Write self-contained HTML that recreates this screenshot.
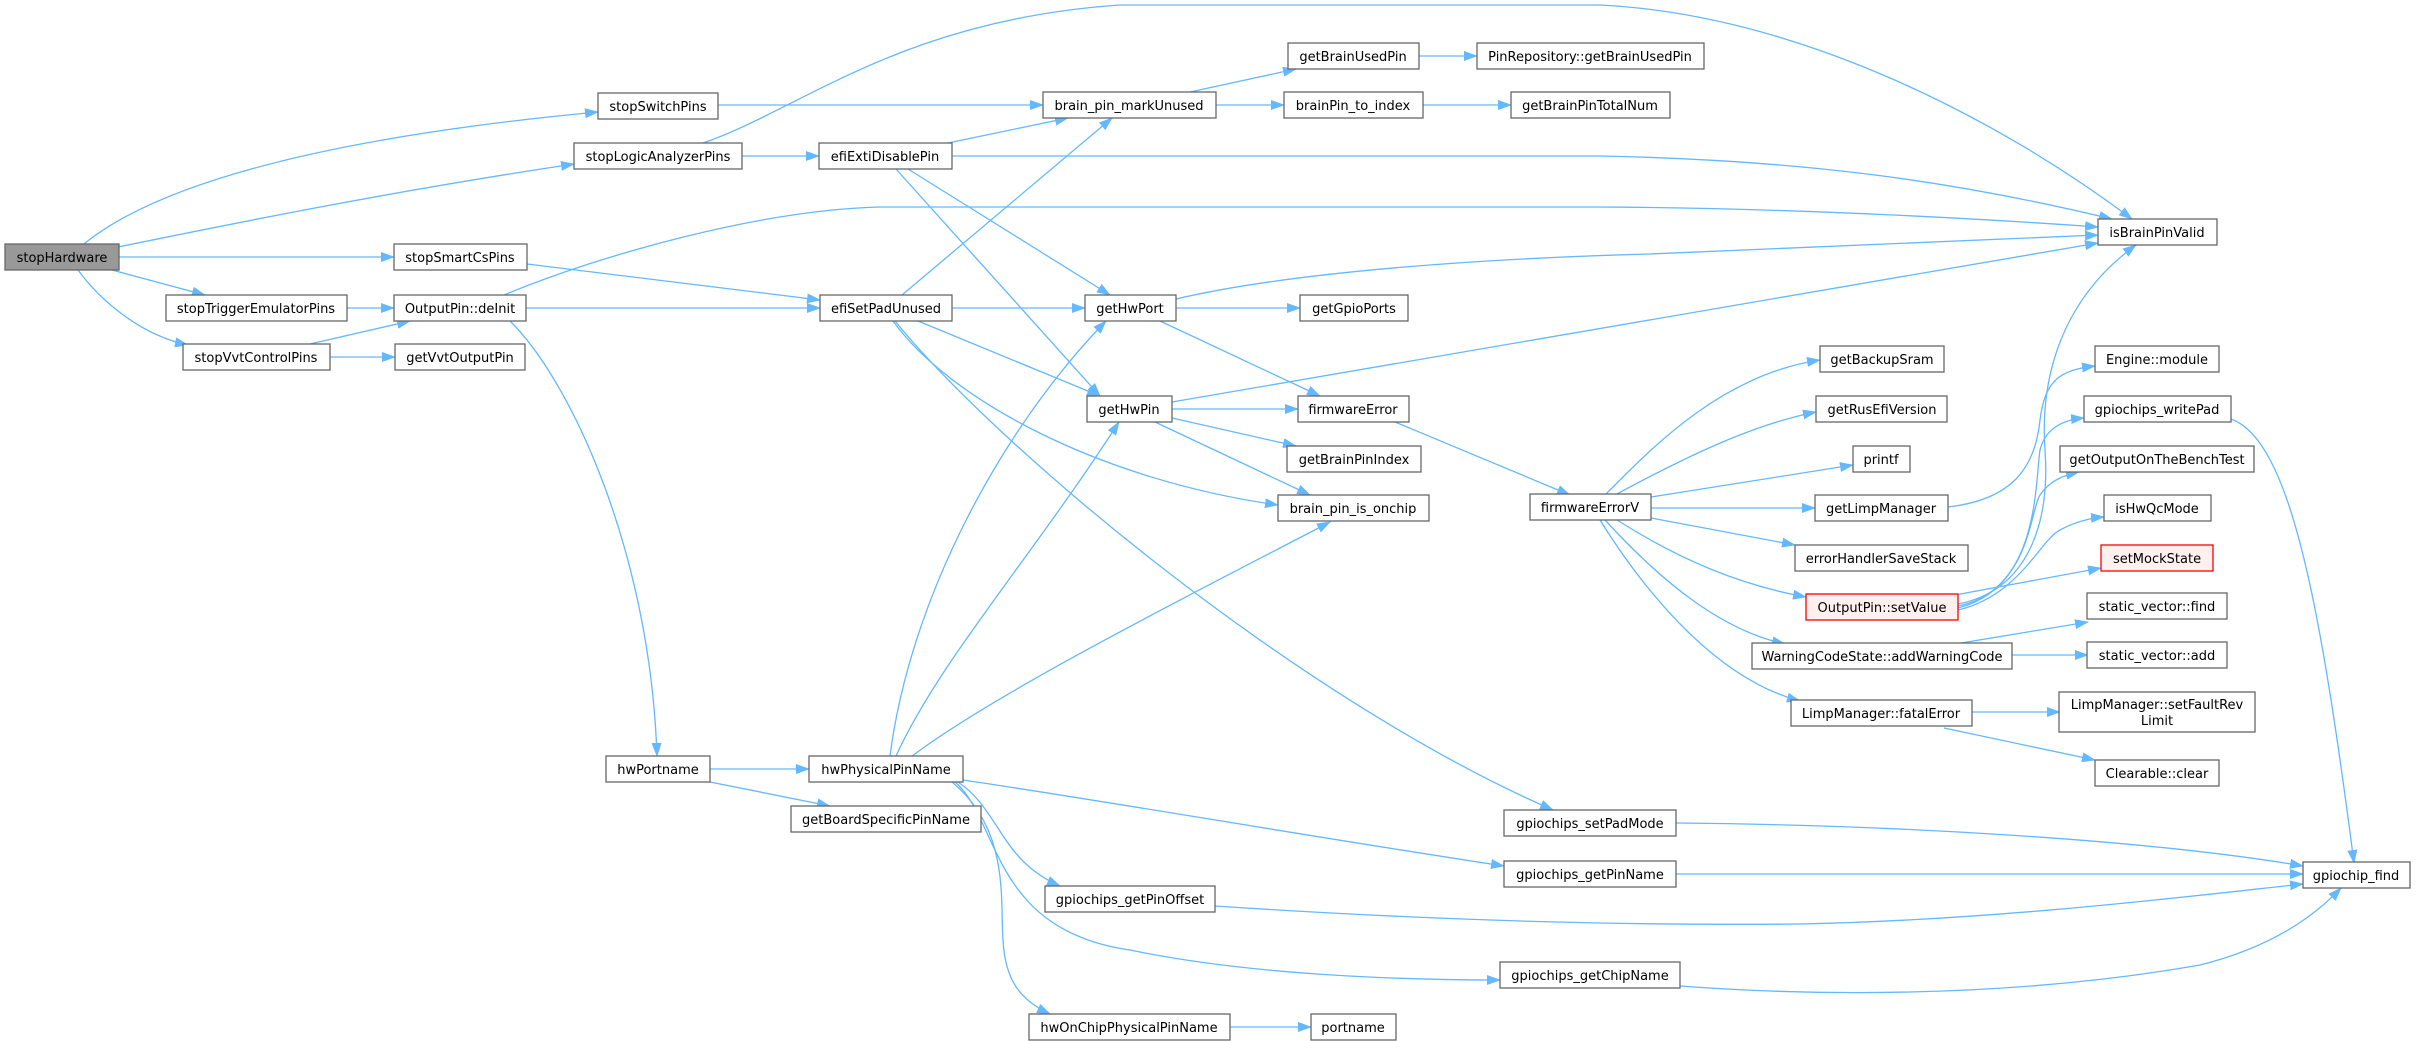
<!DOCTYPE html>
<html><head><meta charset="utf-8"><style>
html,body{margin:0;padding:0;background:#fff;}
svg{display:block;}
text{font-family:"DejaVu Sans","Liberation Sans",sans-serif;font-size:13px;fill:#000;text-anchor:middle;}
.n{fill:#fff;stroke:#666;stroke-width:1.3;}
.g{fill:#999;stroke:#666;stroke-width:1.3;}
.r{fill:#fff0f0;stroke:#f00;stroke-width:1.3;}
path.e{fill:none;stroke:#63b8ff;stroke-width:1.3;marker-end:url(#a);}
</style></head><body>
<svg width="2416" height="1041" viewBox="0 0 2416 1041" xmlns="http://www.w3.org/2000/svg">
<defs><marker id="a" markerUnits="userSpaceOnUse" markerWidth="14" markerHeight="10" refX="13" refY="5" orient="auto"><path d="M0,0 L14,5 L0,10 z" fill="#63b8ff"/></marker></defs>
<g>
<path class="e" d="M84,244 C150,190 300,140 598,112"/>
<path class="e" d="M118,247 C250,220 400,190 574,164"/>
<path class="e" d="M119,257 L394,257"/>
<path class="e" d="M112,270 L205,295"/>
<path class="e" d="M78,270 C100,300 140,335 188,345"/>
<path class="e" d="M347,308 L394,308"/>
<path class="e" d="M310,344 L410,321"/>
<path class="e" d="M330,357 L395,357"/>
<path class="e" d="M718,105 L1043,105"/>
<path class="e" d="M703,143 C800,110 900,20 1120,5 L1600,5 C1800,15 2000,120 2132,219"/>
<path class="e" d="M742,156 L819,156"/>
<path class="e" d="M527,264 L820,300"/>
<path class="e" d="M504,295 C600,255 760,210 880,207 L1600,207 C1800,208 2000,220 2098,227"/>
<path class="e" d="M526,308 L820,308"/>
<path class="e" d="M510,321 C570,380 650,550 657,756"/>
<path class="e" d="M948,143 L1068,118"/>
<path class="e" d="M952,156 L1600,156 C1800,160 1950,180 2112,219"/>
<path class="e" d="M908,169 L1110,295"/>
<path class="e" d="M896,169 L1100,396"/>
<path class="e" d="M902,295 L1112,118"/>
<path class="e" d="M952,308 L1085,308"/>
<path class="e" d="M918,321 L1100,396"/>
<path class="e" d="M893,321 C950,400 1100,480 1278,505"/>
<path class="e" d="M895,321 C1000,450 1300,700 1553,810"/>
<path class="e" d="M1176,299 C1300,270 1500,258 1650,254 L2098,235"/>
<path class="e" d="M1176,308 L1300,308"/>
<path class="e" d="M1160,321 L1320,396"/>
<path class="e" d="M1172,402 L2098,243"/>
<path class="e" d="M1172,409 L1298,409"/>
<path class="e" d="M1172,418 L1296,446"/>
<path class="e" d="M1155,422 L1310,495"/>
<path class="e" d="M890,756 C910,600 1000,430 1106,321"/>
<path class="e" d="M896,756 C940,660 1030,560 1119,422"/>
<path class="e" d="M912,756 C1000,690 1200,590 1330,522"/>
<path class="e" d="M710,769 L809,769"/>
<path class="e" d="M710,782 L830,806"/>
<path class="e" d="M963,780 C1100,800 1300,835 1504,866"/>
<path class="e" d="M958,782 C1000,810 1000,860 1060,886"/>
<path class="e" d="M955,782 C1000,820 990,930 1130,950 C1250,975 1400,980 1500,980"/>
<path class="e" d="M952,782 C1010,830 1000,900 1003,940 C1005,980 1020,1000 1050,1014"/>
<path class="e" d="M1230,1027 L1311,1027"/>
<path class="e" d="M1190,92 L1296,69"/>
<path class="e" d="M1216,105 L1284,105"/>
<path class="e" d="M1423,105 L1511,105"/>
<path class="e" d="M1419,56 L1477,56"/>
<path class="e" d="M1395,422 L1570,495"/>
<path class="e" d="M1605,495 C1650,450 1720,375 1820,360"/>
<path class="e" d="M1615,495 C1680,460 1750,425 1816,412"/>
<path class="e" d="M1651,497 L1853,465"/>
<path class="e" d="M1651,508 L1815,508"/>
<path class="e" d="M1651,518 L1795,545"/>
<path class="e" d="M1617,520 C1680,560 1740,585 1806,597"/>
<path class="e" d="M1605,520 C1660,580 1720,630 1785,644"/>
<path class="e" d="M1600,520 C1650,600 1720,680 1800,701"/>
<path class="e" d="M1948,507 C2010,500 2035,470 2040,420 C2045,380 2060,370 2095,366"/>
<path class="e" d="M1958,604 C2030,590 2050,520 2045,450 C2040,380 2060,300 2136,245"/>
<path class="e" d="M1958,606 C2040,590 2035,480 2040,450 C2045,430 2060,420 2084,418"/>
<path class="e" d="M1958,608 C2030,590 2030,510 2040,495 C2050,480 2065,475 2079,472"/>
<path class="e" d="M1958,610 C2020,595 2040,540 2060,530 C2075,522 2090,518 2104,517"/>
<path class="e" d="M1955,595 L2101,568"/>
<path class="e" d="M1955,644 L2088,622"/>
<path class="e" d="M2012,655 L2088,655"/>
<path class="e" d="M1972,712 L2060,712"/>
<path class="e" d="M1944,728 L2095,760"/>
<path class="e" d="M2231,419 C2290,440 2320,600 2354,863"/>
<path class="e" d="M1676,823 C1900,825 2150,840 2303,866"/>
<path class="e" d="M1676,874 L2303,874"/>
<path class="e" d="M1215,906 C1500,925 1700,925 1800,924 C2000,920 2200,895 2303,884"/>
<path class="e" d="M1680,986 C1800,995 2000,1000 2200,965 C2280,945 2320,910 2341,888"/>
</g>
<g>
<rect class="g" x="5" y="244" width="114" height="26"/><text x="62" y="262">stopHardware</text>
<rect class="n" x="598" y="93" width="120" height="26"/><text x="658" y="111">stopSwitchPins</text>
<rect class="n" x="574" y="143" width="168" height="26"/><text x="658" y="161">stopLogicAnalyzerPins</text>
<rect class="n" x="394" y="244" width="133" height="26"/><text x="460" y="262">stopSmartCsPins</text>
<rect class="n" x="166" y="295" width="181" height="26"/><text x="256" y="313">stopTriggerEmulatorPins</text>
<rect class="n" x="394" y="295" width="132" height="26"/><text x="460" y="313">OutputPin::deInit</text>
<rect class="n" x="183" y="344" width="147" height="26"/><text x="256" y="362">stopVvtControlPins</text>
<rect class="n" x="395" y="344" width="130" height="26"/><text x="460" y="362">getVvtOutputPin</text>
<rect class="n" x="1288" y="43" width="131" height="26"/><text x="1353" y="61">getBrainUsedPin</text>
<rect class="n" x="1477" y="43" width="227" height="26"/><text x="1590" y="61">PinRepository::getBrainUsedPin</text>
<rect class="n" x="1043" y="92" width="173" height="26"/><text x="1129" y="110">brain_pin_markUnused</text>
<rect class="n" x="1284" y="92" width="139" height="26"/><text x="1353" y="110">brainPin_to_index</text>
<rect class="n" x="1511" y="92" width="159" height="26"/><text x="1590" y="110">getBrainPinTotalNum</text>
<rect class="n" x="819" y="143" width="133" height="26"/><text x="885" y="161">efiExtiDisablePin</text>
<rect class="n" x="820" y="295" width="132" height="26"/><text x="886" y="313">efiSetPadUnused</text>
<rect class="n" x="1085" y="295" width="91" height="26"/><text x="1130" y="313">getHwPort</text>
<rect class="n" x="1300" y="295" width="108" height="26"/><text x="1354" y="313">getGpioPorts</text>
<rect class="n" x="2098" y="219" width="119" height="26"/><text x="2157" y="237">isBrainPinValid</text>
<rect class="n" x="1087" y="396" width="85" height="26"/><text x="1129" y="414">getHwPin</text>
<rect class="n" x="1298" y="396" width="111" height="26"/><text x="1353" y="414">firmwareError</text>
<rect class="n" x="1287" y="446" width="134" height="26"/><text x="1354" y="464">getBrainPinIndex</text>
<rect class="n" x="1278" y="495" width="151" height="26"/><text x="1353" y="513">brain_pin_is_onchip</text>
<rect class="n" x="1530" y="494" width="121" height="26"/><text x="1590" y="512">firmwareErrorV</text>
<rect class="n" x="606" y="756" width="104" height="26"/><text x="658" y="774">hwPortname</text>
<rect class="n" x="809" y="756" width="154" height="26"/><text x="886" y="774">hwPhysicalPinName</text>
<rect class="n" x="791" y="806" width="190" height="26"/><text x="886" y="824">getBoardSpecificPinName</text>
<rect class="n" x="1504" y="810" width="172" height="26"/><text x="1590" y="828">gpiochips_setPadMode</text>
<rect class="n" x="1504" y="861" width="172" height="26"/><text x="1590" y="879">gpiochips_getPinName</text>
<rect class="n" x="1045" y="886" width="170" height="26"/><text x="1130" y="904">gpiochips_getPinOffset</text>
<rect class="n" x="1500" y="962" width="180" height="26"/><text x="1590" y="980">gpiochips_getChipName</text>
<rect class="n" x="1029" y="1014" width="201" height="26"/><text x="1129" y="1032">hwOnChipPhysicalPinName</text>
<rect class="n" x="1311" y="1014" width="85" height="26"/><text x="1353" y="1032">portname</text>
<rect class="n" x="1820" y="346" width="124" height="26"/><text x="1882" y="364">getBackupSram</text>
<rect class="n" x="1816" y="396" width="131" height="26"/><text x="1882" y="414">getRusEfiVersion</text>
<rect class="n" x="1853" y="446" width="57" height="26"/><text x="1881" y="464">printf</text>
<rect class="n" x="1815" y="495" width="133" height="26"/><text x="1881" y="513">getLimpManager</text>
<rect class="n" x="1795" y="545" width="173" height="26"/><text x="1881" y="563">errorHandlerSaveStack</text>
<rect class="r" x="1806" y="594" width="152" height="26"/><text x="1882" y="612">OutputPin::setValue</text>
<rect class="n" x="1752" y="643" width="260" height="26"/><text x="1882" y="661">WarningCodeState::addWarningCode</text>
<rect class="n" x="1791" y="700" width="181" height="26"/><text x="1881" y="718">LimpManager::fatalError</text>
<rect class="n" x="2095" y="346" width="124" height="26"/><text x="2157" y="364">Engine::module</text>
<rect class="n" x="2084" y="396" width="147" height="26"/><text x="2157" y="414">gpiochips_writePad</text>
<rect class="n" x="2060" y="446" width="194" height="26"/><text x="2157" y="464">getOutputOnTheBenchTest</text>
<rect class="n" x="2104" y="495" width="107" height="26"/><text x="2157" y="513">isHwQcMode</text>
<rect class="r" x="2101" y="545" width="112" height="26"/><text x="2157" y="563">setMockState</text>
<rect class="n" x="2087" y="593" width="140" height="26"/><text x="2157" y="611">static_vector::find</text>
<rect class="n" x="2087" y="642" width="140" height="26"/><text x="2157" y="660">static_vector::add</text>
<rect class="n" x="2059" y="692" width="196" height="40"/><text x="2157" y="709">LimpManager::setFaultRev</text><text x="2157" y="725">Limit</text>
<rect class="n" x="2095" y="760" width="124" height="26"/><text x="2157" y="778">Clearable::clear</text>
<rect class="n" x="2303" y="862" width="107" height="26"/><text x="2356" y="880">gpiochip_find</text>
</g>
</svg>
</body></html>
